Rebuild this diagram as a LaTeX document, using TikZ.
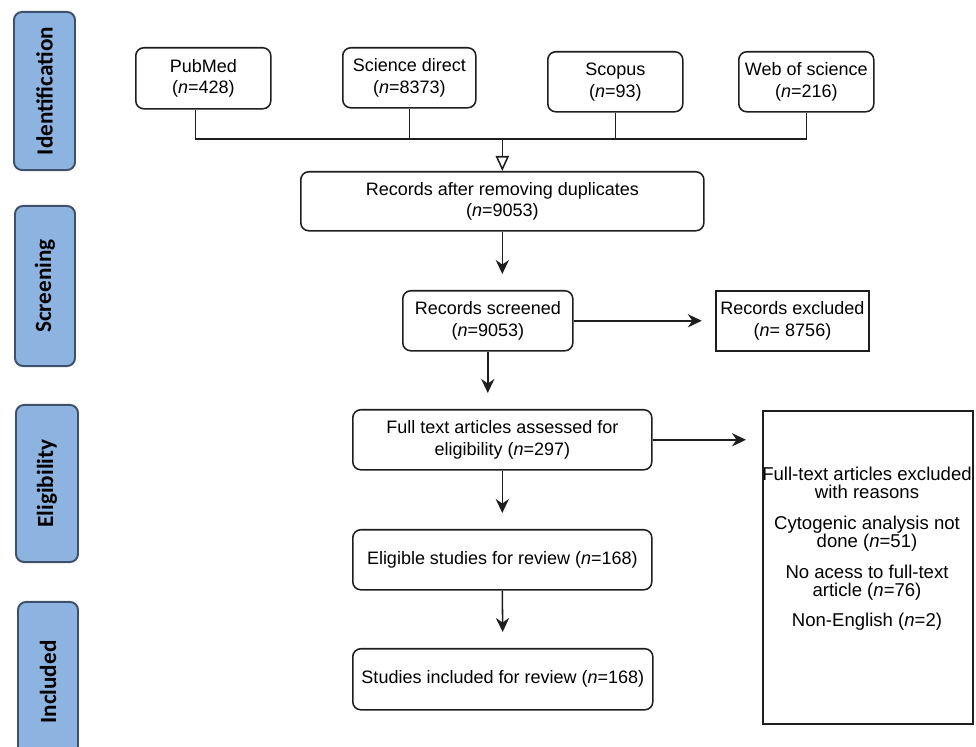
\documentclass[tikz,border=0pt]{standalone}
\usepackage{fontspec}
\setmainfont{Liberation Sans}
\newfontfamily\stagefont{Carlito}
\usepackage{tikz}
\usetikzlibrary{arrows.meta}

\definecolor{stageblue}{RGB}{141,180,224}
\definecolor{stageedge}{RGB}{62,80,108}
\definecolor{boxline}{RGB}{30,30,30}

\tikzset{
	stage/.style={rectangle, draw=stageedge, line width=1.4pt, fill=stageblue, rounded corners=0.2cm, rotate=90, font=\stagefont\bfseries\fontsize{16.5}{18}\selectfont},
	flowbox/.style={rectangle, draw=boxline, line width=1.1pt, rounded corners=0.2cm, align=center, anchor=north west, font=\fontsize{12.8}{15.4}\selectfont},
	plainbox/.style={rectangle, draw=boxline, line width=1.1pt, align=center, anchor=north west, font=\fontsize{12.8}{15.4}\selectfont},
	flowline/.style={draw=boxline, line width=1.1pt},
	flowarrow/.style={draw=boxline, line width=1.1pt, -{Stealth[length=0.35cm, width=0.33cm]}, shorten >=0.4cm}
}

\begin{document}
\begin{tikzpicture}[x=0.025cm, y=-0.025cm]

%\draw[step=40, gray, very thin, dotted] (0,0) grid (976,747);
\useasboundingbox (0,0) rectangle (976,747);

% stages
\node at (44.5,91) [stage, minimum width = 3.95cm, minimum height = 1.525cm] (ident) {Identification};
\node at (45,286) [stage, minimum width = 4cm, minimum height = 1.5cm] (screen) {Screening};
\node at (47,483.5) [stage, minimum width = 3.925cm, minimum height = 1.55cm] (elig) {Eligibility};
\node at (48,682) [stage, minimum width = 4cm, minimum height = 1.5cm] (incl) {Included};

% databases
\node at (135,47) [flowbox, minimum height = 1.525cm, minimum width = 3.375cm] (pubmed)
		{PubMed\\ (\textit{n}=428)};
\node at (342,47) [flowbox, minimum height = 1.5cm, minimum width = 3.325cm] (scidir)
		{Science direct\\ (\textit{n}=8373)};
\node at (547,51) [flowbox, minimum height = 1.5cm, minimum width = 3.375cm] (scopus)
		{Scopus\\ (\textit{n}=93)};
\node at (738,51) [flowbox, minimum height = 1.5cm, minimum width = 3.375cm] (wos)
		{Web of science\\ (\textit{n}=216)};

\node at (300,171) [flowbox, minimum height = 1.475cm, minimum width = 10.075cm] (dup)
		{Records after removing duplicates\\ (\textit{n}=9053)};

\node at (402,290) [flowbox, minimum height = 1.5cm, minimum width = 4.25cm] (screened)
		{Records screened\\ (\textit{n}=9053)};
\node at (715,290) [plainbox, minimum height = 1.5cm, minimum width = 3.625cm] (excl)
		{Records excluded\\ (\textit{n}= 8756)};

\node at (352,409) [flowbox, minimum height = 1.5cm, minimum width = 7.475cm] (fulltext)
		{Full text articles assessed for\\ eligibility (\textit{n}=297)};
\node at (352,529) [flowbox, minimum height = 1.5cm, minimum width = 7.475cm] (eligible)
		{Eligible studies for review (\textit{n}=168)};
\node at (352,648) [flowbox, minimum height = 1.525cm, minimum width = 7.5cm] (included)
		{Studies included for review (\textit{n}=168)};

\node at (762,410) [plainbox, minimum height = 7.825cm, minimum width = 5.25cm] (ftexcl) {};
\node at (867,549) [align=center, font=\fontsize{13.2}{12.8}\selectfont] (ftexcltext)
		{Full-text articles excluded\\ with reasons\\[9pt] Cytogenic analysis not\\ done (\textit{n}=51)\\[9pt] No acess to full-text\\ article (\textit{n}=76)\\[9pt] Non-English (\textit{n}=2)};

% merge of the databases
\coordinate (bus) at ([yshift=0.8cm]dup.north);
\draw[flowline] ([xshift=-0.19cm]pubmed.south) |- (bus) -| (wos.south);
\draw[flowline] (scidir.south) -- (scidir.south |- bus);
\draw[flowline] (scopus.south) -- (scopus.south |- bus);
\draw[flowline, -{Triangle[open, length=0.375cm, width=0.33cm]}] (bus) -- (dup.north);

\draw[flowarrow] (dup.south) -- (dup.south |- screened.north);
\draw[flowarrow, shorten >=0.33cm] (screened.east) -- (excl.west);
\draw[flowarrow] (screened.south) -- (screened.south |- fulltext.north);
\draw[flowarrow] (fulltext.east) -- (fulltext.east -| ftexcl.west);
\draw[flowarrow] (fulltext.south) -- (eligible.north);
\draw[flowarrow] (eligible.south) -- (included.north);

\end{tikzpicture}
\end{document}
